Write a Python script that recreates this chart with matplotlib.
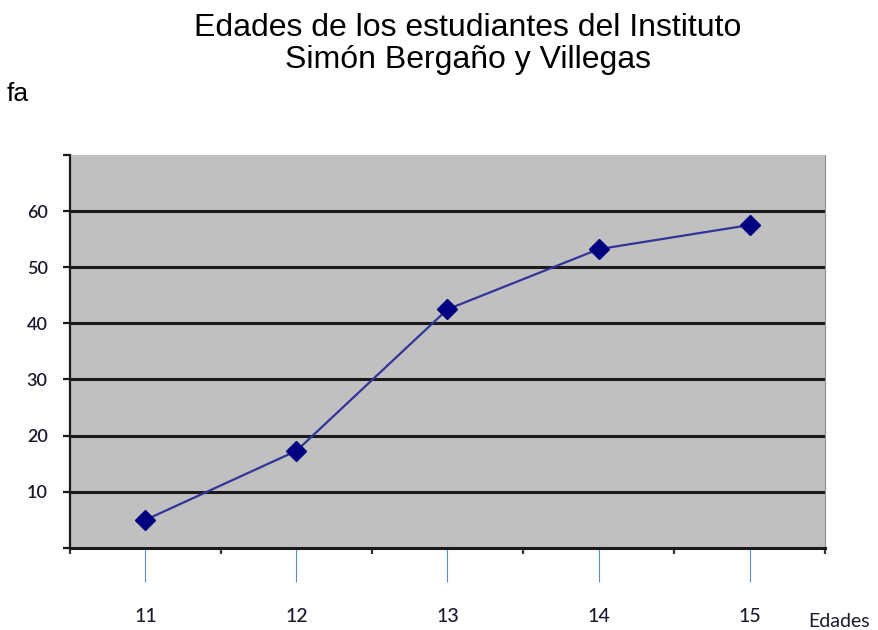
import matplotlib.pyplot as plt
import numpy as np

edades = ["11", "12", "13", "14", "15"]
fa = [5, 17.3, 42.5, 53.2, 57.5]
y_ticks = [0, 10, 20, 30, 40, 50, 60, 70]
y_labels = ["", "10", "20", "30", "40", "50", "60", ""]
grid_levels = [10, 20, 30, 40, 50, 60]

plt.rcParams["font.family"] = ["Liberation Sans", "DejaVu Sans"]

fig = plt.figure(figsize=(8.79, 6.30), dpi=100)
ax = fig.add_axes([0.0796, 0.1302, 0.859, 0.624])
ax.set_facecolor("#c0c0c0")

x = np.arange(len(edades))
ax.plot(x, fa, color="#33339a", lw=1.6, marker="D", markersize=10,
        markerfacecolor="#000080", markeredgecolor="#000080", zorder=3)

ax.set_xlim(-0.5, len(edades) - 0.5)
ax.set_ylim(0, 70)

# horizontal grid lines (none at the top edge)
for g in grid_levels:
    ax.axhline(g, color="#1a1a1a", lw=2.2, zorder=1)

ax.set_yticks(y_ticks)
ax.set_yticklabels(y_labels, family="Lato", fontsize=13, fontweight="semibold", color="#1a1a2e")
ax.tick_params(axis="y", length=5, width=1.6, color="#1a1a1a", pad=11)

# category ticks (blue) and boundary ticks (black)
ax.set_xticks(x)
ax.set_xticklabels(edades, family="Lato", fontsize=14, fontweight="medium", color="#1a1a2e")
ax.tick_params(axis="x", which="major", length=24.5, width=0.8, color="#5b8fd0", pad=19)
ax.set_xticks(np.arange(-0.5, len(edades)), minor=True)
ax.tick_params(axis="x", which="minor", length=4, width=1.6, color="#333333")

ax.spines["top"].set_visible(False)
ax.spines["right"].set_color("#8a8a8a")
ax.spines["left"].set_color("#1a1a1a")
ax.spines["left"].set_linewidth(1.6)
ax.spines["bottom"].set_color("#1a1a1a")
ax.spines["bottom"].set_linewidth(2.2)

fig.text(0.532, 0.98, "Edades de los estudiantes del Instituto\nSimón Bergaño y Villegas",
         ha="center", va="top", fontsize=23, linespacing=1.1)
fig.text(0.008, 0.84, "fa", fontsize=19)
fig.text(0.919, 0.0, "Edades", family="Lato", fontsize=14, color="#1a1a2e", va="bottom")

fig.savefig("out.png", dpi=100)
